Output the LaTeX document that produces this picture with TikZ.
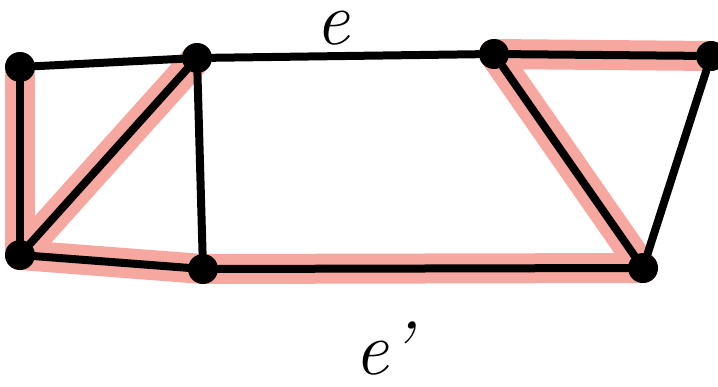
\documentclass[tikz,border=0pt]{standalone}
\usepackage{tikz}
\usetikzlibrary{backgrounds}

\definecolor{hlpink}{RGB}{246,168,160}

\begin{document}
\begin{tikzpicture}[x=1pt, y=-1pt,
    dot/.style={circle, fill=black, inner sep=0pt, minimum size=30pt},
    edge/.style={line width=8pt, line cap=round, line join=round},
    mark path/.style={line width=30pt, line cap=round, draw=hlpink},
    lbl/.style={font=\fontsize{76}{76}\selectfont\itshape, anchor=base}]
    \useasboundingbox (0,0) rectangle (718,386);

    % Đỉnh hàng trên
    \node[dot] (a) at (20, 67) {};
    \node[dot] (b) at (197, 58) {};
    \node[dot] (c) at (494, 54) {};
    \node[dot] (d) at (711, 56) {};

    % Đỉnh hàng dưới
    \node[dot] (e) at (20, 255) {};
    \node[dot] (f) at (203, 269) {};
    \node[dot] (g) at (643, 268) {};

    % Cây khung tô hồng
    \begin{scope}[on background layer]
        \draw[mark path, xshift=-4pt] (a.center) -- (e.center);
        \draw[mark path, xshift=5pt, yshift=-3pt] (e.center) -- (b.center);
        \draw[mark path, yshift=-4pt] (e.center) -- (f.center);
        \draw[mark path, yshift=-4pt] (f.center) -- (g.center);
        \draw[mark path, xshift=5pt] (g.center) -- (c.center);
        \draw[mark path, yshift=-6pt] (c.center) -- (d.center);
    \end{scope}

    % Các cạnh
    \draw[edge] (a) -- (b);
    \draw[edge] (b) -- (c);
    \draw[edge] (c) -- (d);
    \draw[edge] (a) -- (e);
    \draw[edge] (e) -- (b);
    \draw[edge] (b) -- (f);
    \draw[edge] (e) -- (f);
    \draw[edge] (f) -- (g);
    \draw[edge] (c) -- (g);
    \draw[edge] (d) -- (g);

    % Nhãn cạnh
    \node[lbl] (le) at (333, 44) {e};
    \node[lbl] (le2) at (383, 374) {e'};
\end{tikzpicture}
\end{document}
